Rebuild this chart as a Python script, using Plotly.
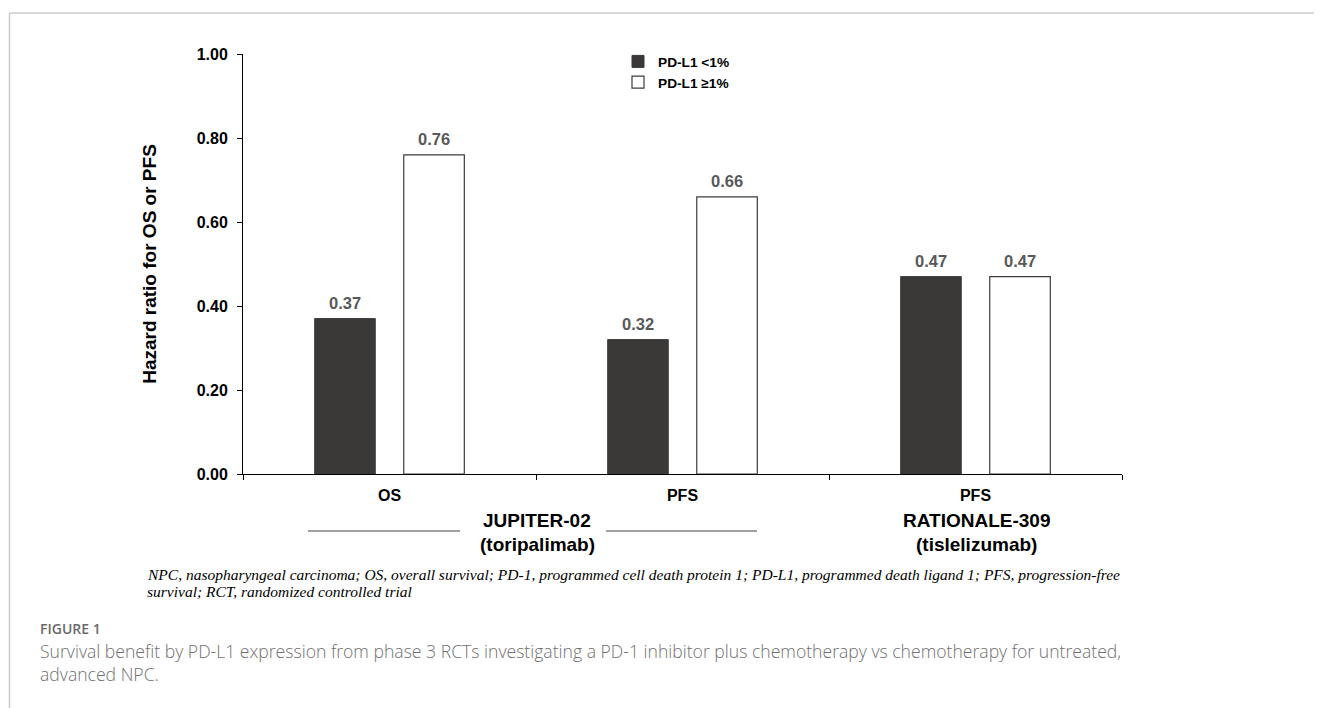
import plotly.graph_objects as go

# ---- data ----
categories = ["JUPITER-02 OS", "JUPITER-02 PFS", "RATIONALE-309 PFS"]
cat_labels = ["OS", "PFS", "PFS"]
pdl1_low = [0.37, 0.32, 0.47]     # PD-L1 <1%
pdl1_high = [0.76, 0.66, 0.47]    # PD-L1 ≥1%
y_ticks = [0.0, 0.2, 0.4, 0.6, 0.8, 1.0]

# page body has an 8px margin: work in reference pixels, shift by OFF
OFF = 8
W, H = 1322 - OFF, 708 - OFF
L, R, T, B = 243, 1122, 54, 474  # plot area in reference px

def px(x):
    return (x - L) / (R - L)

def py(y):
    return (B - y) / (B - T)

ARIAL = "Liberation Sans, Arial"
BAR_OFFSET = 44.5  # px from group centre to each bar centre

fig = go.Figure()
fig.add_trace(go.Bar(
    x=categories, y=pdl1_low, name="PD-L1 <1%",
    marker=dict(color="#3a3937", line=dict(color="#3a3937", width=1)),
    legendgroup="a",
))
fig.add_trace(go.Bar(
    x=categories, y=pdl1_high, name="PD-L1 ≥1%",
    marker=dict(color="#ffffff", line=dict(color="#3c3c3c", width=1.2)),
    legendgroup="b",
))

fig.update_layout(
    width=W, height=H,
    margin=dict(l=L - OFF, r=W - (R - OFF), t=T - OFF, b=H - (B - OFF), pad=0),
    paper_bgcolor="white", plot_bgcolor="white",
    barmode="group", bargap=0.392, bargroupgap=0.32,
    showlegend=True,
    legend=dict(
        x=px(618), y=py(46), xanchor="left", yanchor="top",
        font=dict(family=ARIAL, size=13.7, color="#000", weight="bold"),
        bgcolor="rgba(0,0,0,0)", traceorder="grouped", tracegroupgap=0,
    ),
    xaxis=dict(
        type="category", tickmode="array", tickvals=categories, ticktext=cat_labels,
        tickson="boundaries", ticks="outside", ticklen=5, tickcolor="#000", tickwidth=1,
        showline=True, linecolor="#000", linewidth=1, showgrid=False,
        tickfont=dict(family=ARIAL, size=16, color="#000", weight="bold"),
        zeroline=False, ticklabelstandoff=7,
    ),
    yaxis=dict(
        range=[0, 1], tickvals=y_ticks, ticktext=[f"{v:.2f}" for v in y_ticks],
        ticks="outside", ticklen=5, tickcolor="#000", tickwidth=1,
        showline=True, linecolor="#000", linewidth=1, showgrid=False, zeroline=False,
        tickfont=dict(family=ARIAL, size=16, color="#000", weight="bold"),
        ticklabelstandoff=6,
        title=dict(text="Hazard ratio for OS or PFS",
                   font=dict(family=ARIAL, size=19, color="#000", weight="bold"),
                   standoff=35),
    ),
)

shapes = []
# page border lines
shapes.append(dict(type="line", xref="paper", yref="paper", x0=px(9.5), x1=px(9.5), y0=py(13), y1=py(720),
                   line=dict(color="#cccccc", width=1.5)))
shapes.append(dict(type="line", xref="paper", yref="paper", x0=px(9.5), x1=px(1330), y0=py(13), y1=py(13),
                   line=dict(color="#cccccc", width=1.5)))
# bracket lines around JUPITER-02
for a, b in [(308, 460), (606, 757)]:
    shapes.append(dict(type="line", xref="paper", yref="paper", x0=px(a), x1=px(b), y0=py(531), y1=py(531),
                       line=dict(color="#808080", width=1.5)))
fig.update_layout(shapes=shapes)

ann = []
# value labels above bars
val_font = dict(family=ARIAL, size=16.5, color="#595959", weight="bold")
for cat, lo, hi in zip(categories, pdl1_low, pdl1_high):
    ann.append(dict(x=cat, y=lo, xref="x", yref="y", text=f"{lo:.2f}", showarrow=False,
                    xshift=-BAR_OFFSET, yshift=16, yanchor="middle", font=val_font))
    ann.append(dict(x=cat, y=hi, xref="x", yref="y", text=f"{hi:.2f}", showarrow=False,
                    xshift=BAR_OFFSET, yshift=16, yanchor="middle", font=val_font))

grp_font = dict(family=ARIAL, size=19, color="#000", weight="bold")
for cx, l1, l2 in [(537, "JUPITER-02", "(toripalimab)"), (976, "RATIONALE-309", "(tislelizumab)")]:
    ann.append(dict(x=px(cx), y=py(520), xref="paper", yref="paper", text=l1, showarrow=False,
                    font=grp_font, xanchor="center", yanchor="middle"))
    ann.append(dict(x=px(cx), y=py(544), xref="paper", yref="paper", text=l2, showarrow=False,
                    font=grp_font, xanchor="center", yanchor="middle"))

cap_font = dict(family="Liberation Serif, Times New Roman", size=15.5, color="#000", style="italic")
ann.append(dict(x=px(145), y=py(574), xref="paper", yref="paper", showarrow=False, xanchor="left", yanchor="middle",
                text="NPC, nasopharyngeal carcinoma; OS, overall survival; PD-1, programmed cell death protein 1; PD-L1, programmed death ligand 1; PFS, progression-free",
                font=cap_font))
ann.append(dict(x=px(145), y=py(591), xref="paper", yref="paper", showarrow=False, xanchor="left", yanchor="middle",
                text="survival; RCT, randomized controlled trial", font=cap_font))
ann.append(dict(x=px(38), y=py(628), xref="paper", yref="paper", showarrow=False, xanchor="left", yanchor="middle",
                text="FIGURE 1", font=dict(family="Open Sans", size=14, color="#6a6a6a", weight=600)))
fig_font = dict(family="Open Sans", size=17.6, color="#707070", weight=300)
ann.append(dict(x=px(38), y=py(651), xref="paper", yref="paper", showarrow=False, xanchor="left", yanchor="middle",
                text="Survival benefit by PD-L1 expression from phase 3 RCTs investigating a PD-1 inhibitor plus chemotherapy vs chemotherapy for untreated,",
                font=fig_font))
ann.append(dict(x=px(38), y=py(674), xref="paper", yref="paper", showarrow=False, xanchor="left", yanchor="middle",
                text="advanced NPC.", font=fig_font))
fig.update_layout(annotations=ann)

fig.write_html("out.html")
